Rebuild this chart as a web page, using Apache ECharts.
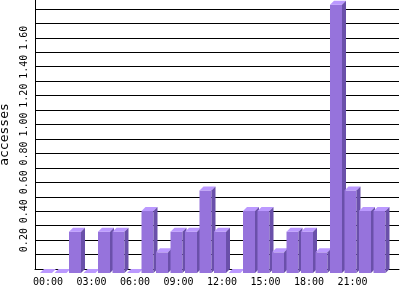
<!DOCTYPE html>
<html><head><meta charset="utf-8">
<script src="https://cdn.jsdelivr.net/npm/echarts@6/dist/echarts.min.js"></script>
<style>html,body{margin:0;padding:0;background:#fff}#c{width:400px;height:300px}</style>
</head><body><div id="c"></div>
<script>
var hours = [0,1,2,3,4,5,6,7,8,9,10,11,12,13,14,15,16,17,18,19,20,21,22,23];
var accesses = [0,0,0.286,0,0.286,0.286,0,0.429,0.143,0.286,0.286,0.571,0.286,0,0.429,0.429,0.143,0.286,0.286,0.143,1.857,0.571,0.429,0.429];
var xTickValues = [0,3,6,9,12,15,18,21];
var xTickLabels = ['00:00','03:00','06:00','09:00','12:00','15:00','18:00','21:00'];
var yTickValues = [0.2,0.4,0.6,0.8,1.0,1.2,1.4,1.6];

var chart = echarts.init(document.getElementById('c'));
var FRONT = '#9673dc', TOP = '#bb99ff', SIDE = '#6a50aa';
var D = 4, HALF = 8, FW = 12;
function renderItem(params, api) {
  var h = api.value(0), v = api.value(1);
  var p = api.coord([h, v]);
  var p0 = api.coord([h, 0]);
  var cx = p[0], yv = p[1], y0 = p0[1];
  var fl = cx - HALF, fr = fl + FW;
  return {
    type: 'group',
    children: [
      {type: 'rect', shape: {x: fl, y: yv + D, width: FW, height: (y0 - yv)}, style: {fill: FRONT}},
      {type: 'polygon', shape: {points: [[fl, yv + D], [fr, yv + D], [fr + D, yv], [fl + D, yv]]}, style: {fill: TOP}},
      {type: 'polygon', shape: {points: [[fr, yv + D], [fr + D, yv], [fr + D, y0], [fr, y0 + D]]}, style: {fill: SIDE}}
    ]
  };
}
chart.setOption({
  animation: false,
  grid: {left: 35, right: 1, top: 0, bottom: 31, containLabel: false, outerBoundsMode: 'none'},
  xAxis: {
    type: 'value', min: -0.897, max: 24.207,
    axisLine: {show: true, onZero: false, lineStyle: {color: '#000', width: 1}},
    axisTick: {show: false},
    splitLine: {show: false},
    axisLabel: {
      customValues: xTickValues,
      formatter: function (v) { return xTickLabels[xTickValues.indexOf(Math.round(v))]; },
      color: '#000', fontFamily: 'DejaVu Sans Mono', fontSize: 10, margin: 8
    }
  },
  yAxis: {
    type: 'value', min: 0, max: 1.862, interval: 0.1,
    name: 'accesses', nameLocation: 'middle', nameGap: 22,
    nameTextStyle: {color: '#000', fontFamily: 'DejaVu Sans Mono', fontSize: 13},
    axisLine: {show: true, onZero: false, lineStyle: {color: '#000', width: 1}},
    axisTick: {show: false},
    splitLine: {show: true, showMaxLine: false, lineStyle: {color: '#000', width: 1}},
    axisLabel: {
      customValues: yTickValues, rotate: 90,
      formatter: function (v) { return v.toFixed(2); },
      color: '#000', fontFamily: 'DejaVu Sans Mono', fontSize: 10, margin: 6
    }
  },
  series: [{
    type: 'custom', renderItem: renderItem, clip: false, z: 5,
    encode: {x: 0, y: 1},
    data: hours.map(function (h, i) { return [h, accesses[i]]; })
  }]
});
</script></body></html>
